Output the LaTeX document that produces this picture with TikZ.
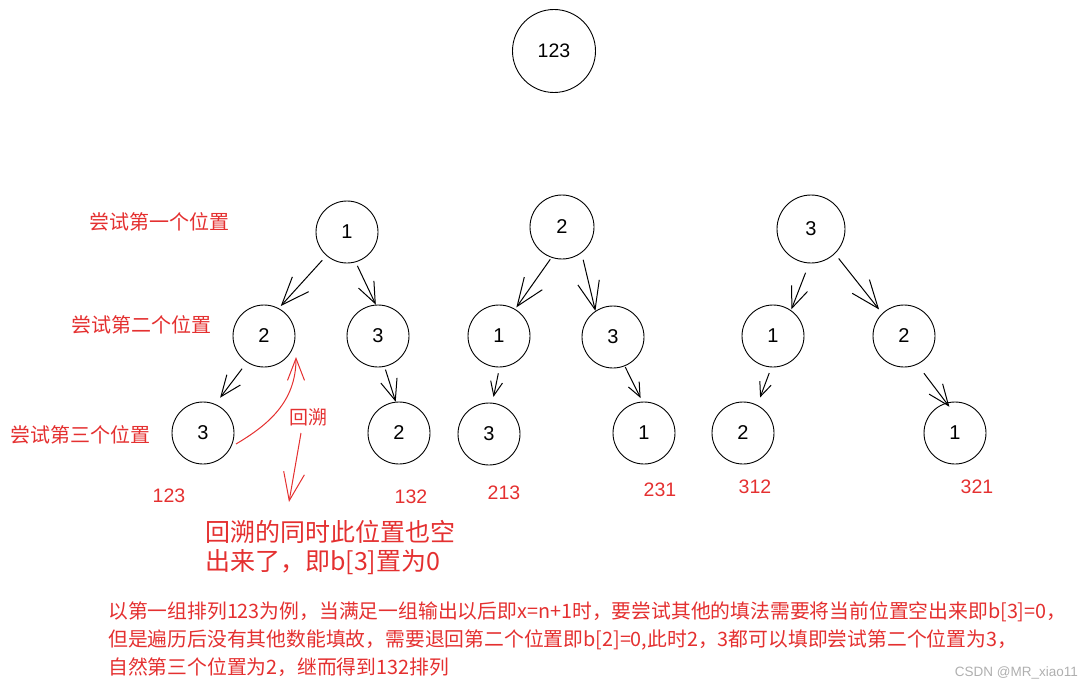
\documentclass[tikz,border=0pt]{standalone}
\usepackage{fontspec}
\setmainfont{Liberation Sans}
\newfontfamily\cjk{Noto Sans CJK SC}
\usetikzlibrary{arrows.meta}
\definecolor{myred}{RGB}{228,48,48}
\definecolor{wm}{RGB}{175,175,175}
\begin{document}
\begin{tikzpicture}[x=1pt,y=-1pt,
  nd/.style={circle,draw,line width=0.9pt,minimum size=62pt,inner sep=0pt,font=\fontsize{20}{24}\selectfont},
  arrL/.style={-{Straight Barb[length=28pt,width=22pt]},line width=1pt},
  arrM/.style={-{Straight Barb[length=21pt,width=17pt]},line width=1pt},
  arrS/.style={-{Straight Barb[length=14pt,width=12pt]},line width=1pt},
  lbl/.style={text=myred,font=\cjk\fontsize{20}{24}\selectfont,anchor=west,inner sep=0pt},
  num/.style={text=myred,font=\fontsize{19.5}{23}\selectfont,inner sep=0pt},
  big/.style={text=myred,font=\cjk\fontsize{25}{30}\selectfont,anchor=west,inner sep=0pt},
  note/.style={text=myred,font=\cjk\fontsize{19.8}{24}\selectfont,anchor=west,inner sep=0pt},
  redarr/.style={draw=myred,line width=1pt}
]
\useasboundingbox (0,0) rectangle (1092,690);

% root
\node[nd,minimum size=83pt,font=\fontsize{19.5}{23}\selectfont] (root) at (554,51) {123};

% tree 1
\node[nd] (t1) at (347,232) {1};
\node[nd] (a) at (264,336) {2};
\node[nd] (b) at (378,336) {3};
\node[nd] (aa) at (203,433) {3};
\node[nd] (bb) at (399,433) {2};

% tree 2
\node[nd,minimum size=64pt] (t2) at (562,227) {2};
\node[nd] (c) at (499,336) {1};
\node[nd] (d) at (613,337) {3};
\node[nd] (cc) at (489,434) {3};
\node[nd] (dd) at (644,433) {1};

% tree 3
\node[nd,minimum size=68pt] (t3) at (811,229) {3};
\node[nd] (e) at (773,336) {1};
\node[nd] (f) at (904,336) {2};
\node[nd] (ee) at (743,433) {2};
\node[nd] (ff) at (955,433) {1};

% arrows tree 1
\draw[arrL,shorten <=6pt,shorten >=3pt] (t1.229) -- (a.62);
\draw[arrM,shorten <=4pt] (t1.286) -- (b.94);
\draw[arrM,shorten <=8pt,shorten >=8pt] (a.237) -- (aa.67);
\draw[arrM,shorten <=3pt] (b.282) -- (bb.96);

% arrows tree 2
\draw[arrL,shorten <=2pt,shorten >=2pt] (t2.251) -- (c.59);
\draw[arrL,shorten <=7pt] (t2.307) -- (d.124);
\draw[arrS,shorten <=6pt,shorten >=6pt] (c.271) -- (cc.84);
\draw[arrS,shorten <=1pt,shorten >=4pt] (d.292) -- (dd.93);

% arrows tree 3
\draw[arrM,shorten <=10pt,shorten >=1pt] (t3.267) -- (e.55);
\draw[arrL,shorten <=6pt,shorten >=5pt] (t3.314) -- (f.134);
\draw[arrS,shorten <=6pt,shorten >=8pt] (e.267) -- (ee.63);
\draw[arrM,shorten <=11pt,shorten >=-5pt] (f.295) -- (ff.106);

% level labels
\node[lbl] (l1) at (89,222) {尝试第一个位置};
\node[lbl] (l2) at (71,325) {尝试第二个位置};
\node[lbl] (l3) at (10,435) {尝试第三个位置};

% result labels
\node[num] (r1) at (169,496) {123};
\node[num] (r2) at (411,497) {132};
\node[num] (r3) at (504,493) {213};
\node[num] (r4) at (660,490) {231};
\node[num] (r5) at (755,487) {312};
\node[num] (r6) at (977,487) {321};

% backtrack arrows
\coordinate (bs) at (236,444);
\coordinate (bt) at (296,357);
\draw[redarr,-{Straight Barb[length=22pt,width=17pt]}] (bs) .. controls (268,425) and (296,402) .. (bt);
\node[text=myred,font=\cjk\fontsize{19}{23}\selectfont,inner sep=0pt] (hs) at (308,417) {回溯};
\coordinate (ds) at (301,433);
\coordinate (dt) at (289,502);
\draw[redarr,-{Straight Barb[length=28pt,width=21pt]}] (ds) -- (dt);

% big text
\node[big] (bg1) at (205,532) {回溯的同时此位置也空};
\node[big] (bg2) at (205,562) {出来了，即b[3]置为0};

% note
\node[note] (n1) at (108,612) {以第一组排列123为例，当满足一组输出以后即x=n+1时，要尝试其他的填法需要将当前位置空出来即b[3]=0，};
\node[note] (n2) at (108,640) {但是遍历后没有其他数能填故，需要退回第二个位置即b[2]=0,此时2，3都可以填即尝试第二个位置为3，};
\node[note] (n3) at (108,667) {自然第三个位置为2，继而得到132排列};

% watermark
\node[text=wm,font=\fontsize{13.5}{16}\selectfont,anchor=east,inner sep=0pt] (wmk) at (1078,673) {CSDN @MR\_xiao11};
\end{tikzpicture}
\end{document}
